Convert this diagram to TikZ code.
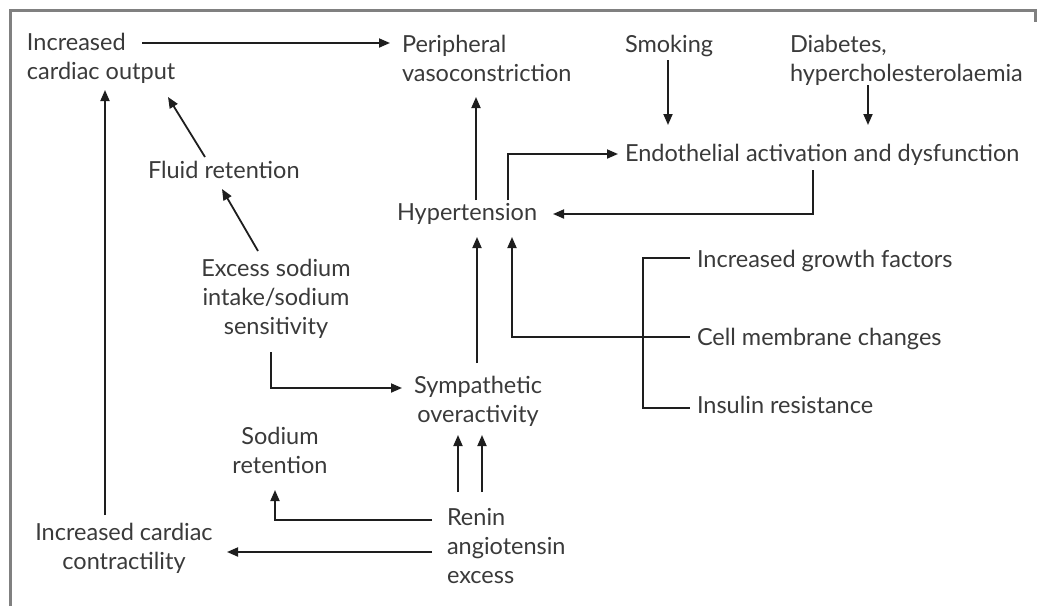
\documentclass[tikz,border=0pt]{standalone}
\usepackage{fontspec}
\setmainfont{Lato}
\usetikzlibrary{arrows.meta}
\definecolor{txt}{HTML}{3A3A3A}
\definecolor{ln}{HTML}{1E1E1E}
\definecolor{frm}{HTML}{808080}
\begin{document}
\begin{tikzpicture}[x=1pt,y=-1pt,
  lbl/.style={inner sep=0pt,outer sep=0pt,text=txt,font=\fontsize{23.5}{29}\selectfont},
  lleft/.style={lbl,anchor=base west,align=left},
  lmid/.style={lbl,anchor=base,align=center},
  con/.style={draw=ln,line width=1.8pt},
  arr/.style={con,-{Triangle[length=11pt,width=9pt]}}]
\useasboundingbox (0,0) rectangle (1037,606);
\draw[frm,line width=3pt] (10,606) -- (10,10) -- (1035,10) -- (1035,22);
% nodes (base anchor = baseline of the last line)
\node[lleft] (ico) at (27,79) {Increased\\cardiac output};
\node[lleft] (pv) at (402,81) {Peripheral\\vasoconstriction};
\node[lleft] (smk) at (625,52) {Smoking};
\node[lleft] (dia) at (790,81) {Diabetes,\\hypercholesterolaemia};
\node[lleft] (endo) at (625,161) {Endothelial activation and dysfunction};
\node[lleft] (hyp) at (397,220) {Hypertension};
\node[lleft] (fluid) at (148,178) {Fluid retention};
\node[lmid] (exs) at (276,334) {Excess sodium\\intake/sodium\\sensitivity};
\node[lmid] (sym) at (478,422) {Sympathetic\\overactivity};
\node[lmid] (sr) at (280,473) {Sodium\\retention};
\node[lmid] (icc) at (124,569) {Increased cardiac\\contractility};
\node[lleft] (ren) at (447,583) {Renin\\angiotensin\\excess};
\node[lleft] (igf) at (697,267) {Increased growth factors};
\node[lleft] (cmc) at (697,345) {Cell membrane changes};
\node[lleft] (ins) at (697,413) {Insulin resistance};
% connectors
\draw[arr] (142,43) -- (390,43);
\draw[arr] (668,60) -- (668,125);
\draw[arr] (868,85) -- (868,125);
\draw[arr] (508,200) -- (508,154) -- (618,154);
\draw[arr] (813,170) -- (813,214) -- (553,214);
\draw[arr] (476,200) -- (476,97);
\draw[arr] (477,363) -- (477,237);
\draw[con] (690,258) -- (643,258) -- (643,408) -- (690,408);
\draw[arr] (690,337) -- (512,337) -- (512,237);
\draw[arr] (205,157) -- (168,97);
\draw[arr] (258,251) -- (222,189);
\draw[arr] (271,352) -- (271,388) -- (402,388);
\draw[arr] (458,492) -- (458,435);
\draw[arr] (482,492) -- (482,435);
\draw[arr] (432,520) -- (275,520) -- (275,490);
\draw[arr] (432,552) -- (227,552);
\draw[arr] (105,515) -- (105,90);
\end{tikzpicture}
\end{document}
